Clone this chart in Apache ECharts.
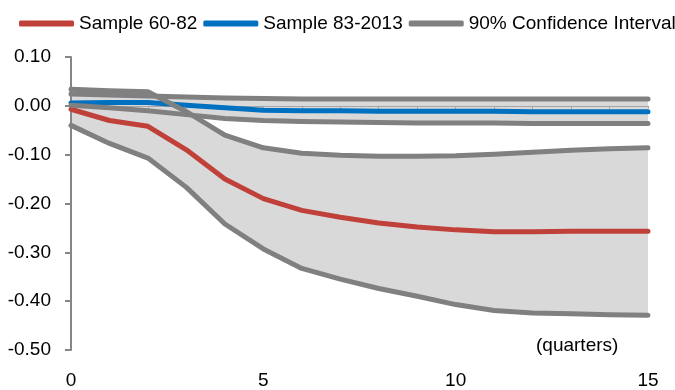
<!DOCTYPE html>
<html>
<head>
<meta charset="utf-8">
<script src="https://cdn.jsdelivr.net/npm/echarts@6/dist/echarts.min.js"></script>
<style>
  html, body { margin: 0; padding: 0; background: #fff; }
  #chart { width: 675px; height: 390px; }
</style>
</head>
<body>
<div id="chart"></div>
<script>
// quarters after shock
var quarters = ['0', '1', '2', '3', '4', '5', '6', '7', '8', '9', '10', '11', '12', '13', '14', '15'];

// Sample 60-82 and its 90% band
var sample6082 = [-0.007, -0.030, -0.042, -0.090, -0.150, -0.190, -0.214, -0.228, -0.240, -0.248, -0.254, -0.258, -0.258, -0.257, -0.257, -0.257];
var upper6082 = [0.034, 0.031, 0.029, -0.012, -0.060, -0.086, -0.097, -0.101, -0.103, -0.103, -0.102, -0.099, -0.095, -0.091, -0.088, -0.086];
var lower6082 = [-0.040, -0.077, -0.107, -0.167, -0.242, -0.293, -0.333, -0.355, -0.374, -0.390, -0.407, -0.419, -0.424, -0.426, -0.428, -0.429];

// Sample 83-2013 and its 90% band
var sample8313 = [0.006, 0.007, 0.007, 0.001, -0.004, -0.009, -0.010, -0.010, -0.011, -0.011, -0.011, -0.011, -0.012, -0.012, -0.012, -0.012];
var upper8313 = [0.024, 0.022, 0.020, 0.018, 0.016, 0.015, 0.014, 0.014, 0.014, 0.014, 0.014, 0.014, 0.014, 0.014, 0.014, 0.014];
var lower8313 = [0.001, -0.004, -0.010, -0.018, -0.026, -0.030, -0.032, -0.033, -0.034, -0.035, -0.035, -0.035, -0.036, -0.036, -0.036, -0.036];

var legendNames = ['Sample 60-82', 'Sample 83-2013', '90% Confidence Interval'];
var xLabelStep = 5;
var yMin = -0.5, yMax = 0.1, yStep = 0.1;

var FONT = 'Liberation Sans';
var RED = '#C0403A', BLUE = '#0070C0', GREY = '#808080', FILL = '#D9D9D9';

function diff(a, b) {
  return a.map(function (v, i) { return +(v - b[i]).toFixed(4); });
}

function band(id, lower, upper) {
  return [{
    name: id + '-base',
    type: 'line',
    stack: id,
    stackStrategy: 'all',
    data: lower,
    symbol: 'none',
    lineStyle: { opacity: 0 },
    silent: true,
    z: 0
  }, {
    name: id + '-fill',
    type: 'line',
    stack: id,
    stackStrategy: 'all',
    data: diff(upper, lower),
    symbol: 'none',
    lineStyle: { opacity: 0 },
    areaStyle: { color: FILL, opacity: 1 },
    silent: true,
    z: 0
  }];
}

function line(name, vals, color) {
  return {
    name: name,
    type: 'line',
    data: vals,
    symbol: 'none',
    color: color,
    lineStyle: { color: color, width: 5, cap: 'round', join: 'round' },
    z: 2
  };
}

var series = [].concat(
  band('b6082', lower6082, upper6082),
  band('b8313', lower8313, upper8313),
  [
    line('Sample 60-82', sample6082, RED),
    line('Sample 83-2013', sample8313, BLUE),
    line('90% Confidence Interval', upper6082, GREY),
    line('90% Confidence Interval', lower6082, GREY),
    line('90% Confidence Interval', upper8313, GREY),
    line('90% Confidence Interval', lower8313, GREY)
  ]
);

var chart = echarts.init(document.getElementById('chart'));
chart.setOption({
  animation: false,
  textStyle: { fontFamily: FONT },
  legend: {
    data: legendNames,
    left: 14,
    top: 9,
    width: 661,
    itemGap: 6,
    itemWidth: 55,
    itemHeight: 6,
    icon: 'roundRect',
    selectedMode: false,
    textStyle: { fontSize: 19, color: '#000', fontFamily: FONT }
  },
  grid: { left: 71, right: 27, top: 57, bottom: 36, containLabel: false },
  xAxis: [{
    type: 'category',
    data: quarters,
    boundaryGap: false,
    z: 1,
    axisLine: { onZero: true, lineStyle: { color: '#A6A6A6', width: 1 } },
    axisTick: { show: true, interval: 0, length: 3, lineStyle: { color: '#A6A6A6' } },
    axisLabel: { show: false },
    splitLine: { show: false }
  }, {
    type: 'category',
    data: quarters,
    boundaryGap: false,
    position: 'bottom',
    axisLine: { show: false, onZero: false },
    axisTick: { show: false },
    splitLine: { show: false },
    axisLabel: {
      margin: 21,
      fontSize: 19,
      color: '#000',
      fontFamily: FONT,
      interval: function (i) { return i % xLabelStep === 0; }
    }
  }],
  yAxis: {
    type: 'value',
    min: yMin, max: yMax, interval: yStep,
    axisLine: { show: true, lineStyle: { color: '#868686', width: 2 } },
    axisTick: { show: true, length: 6, lineStyle: { color: '#868686', width: 2 } },
    splitLine: { show: false },
    axisLabel: {
      margin: 20,
      fontSize: 19,
      color: '#000',
      fontFamily: FONT,
      formatter: function (v) { return v.toFixed(2); }
    }
  },
  graphic: [{
    type: 'text',
    left: 536,
    top: 336,
    style: { text: '(quarters)', fontSize: 19, fontFamily: FONT, fill: '#000' }
  }],
  series: series
});
</script>
</body>
</html>
